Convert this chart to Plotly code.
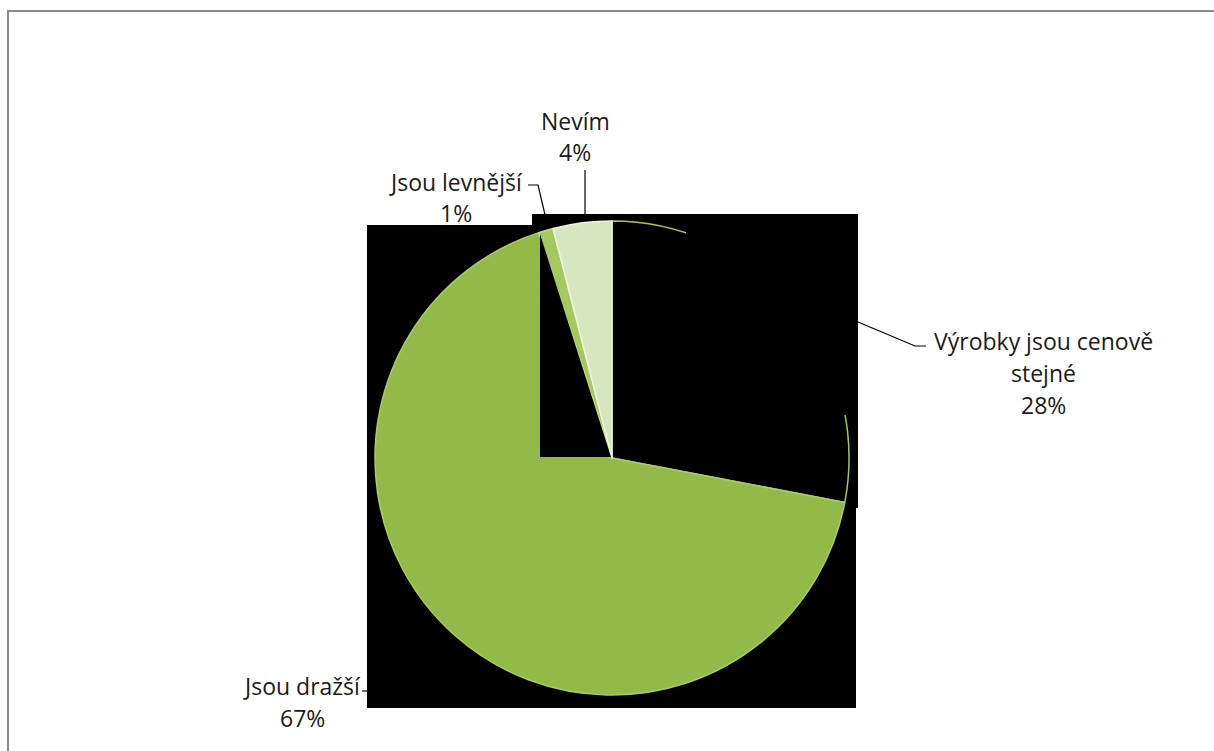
import plotly.graph_objects as go

# Survey answers (share of respondents, %)
labels = ["Výrobky jsou cenově stejné", "Jsou dražší", "Jsou levnější", "Nevím"]
values = [28, 67, 1, 4]
slice_colors = ["#000000", "#93ba49", "#a6c95f", "#d8e6bf"]
edge_colors = ["#a3c85a", "#a9cc66", "#c5dd98", "#eef4e2"]

W, H = 1214, 751


def px(x):
    return x / W


def py(y):
    return 1 - y / H


fig = go.Figure()

fig.add_trace(go.Pie(
    labels=labels,
    values=values,
    sort=False,
    direction="clockwise",
    rotation=0,
    textinfo="none",
    hoverinfo="label+percent",
    marker=dict(colors=slice_colors, line=dict(color=edge_colors, width=1.5)),
    domain=dict(x=[px(375), px(849)], y=[py(695), py(221)]),
    showlegend=False,
))

shapes = []
# outer chart frame (only top and left edges fall inside the page)
shapes.append(dict(type="path", xref="paper", yref="paper",
                   path=f"M {px(8)},{py(800)} L {px(8)},{py(11)} L {px(1300)},{py(11)}",
                   line=dict(color="#8a8a8a", width=2), layer="below"))
# dark backdrop behind the pie
shapes.append(dict(type="rect", xref="paper", yref="paper",
                   x0=px(367), x1=px(856), y0=py(708), y1=py(225),
                   line=dict(width=0), fillcolor="#000000", layer="below"))
shapes.append(dict(type="rect", xref="paper", yref="paper",
                   x0=px(532), x1=px(858), y0=py(508), y1=py(214),
                   line=dict(width=0), fillcolor="#000000", layer="below"))
# dark patches drawn over the pie
shapes.append(dict(type="path", xref="paper", yref="paper",
                   path=f"M {px(540)},{py(457)} L {px(611)},{py(457)} L {px(540)},{py(234)} Z",
                   line=dict(width=0), fillcolor="#000000", layer="above"))
shapes.append(dict(type="rect", xref="paper", yref="paper",
                   x0=px(686), x1=px(858), y0=py(415), y1=py(214),
                   line=dict(width=0), fillcolor="#000000", layer="above"))


def seg(points):
    d = "M " + " L ".join(f"{px(x)},{py(y)}" for x, y in points)
    shapes.append(dict(type="path", xref="paper", yref="paper", path=d,
                       line=dict(color="#000000", width=1.2), layer="above"))


# leader lines
seg([(585, 170), (585, 219)])                     # Nevím
seg([(528, 185), (538, 185), (546, 219)])         # Jsou levnější
seg([(858, 322), (915, 346), (926, 346)])         # Výrobky jsou cenově stejné
seg([(362, 691), (369, 691)])                     # Jsou dražší

font = dict(family="'Open Sans', 'Noto Sans', sans-serif", size=23, color="#1a1a1a")


def label_block(lines, cx, ys):
    for line, y in zip(lines, ys):
        fig.add_annotation(text=line, x=px(cx), y=py(y), xref="paper", yref="paper",
                           showarrow=False, font=font, xanchor="center", yanchor="middle")


pct = [f"{v}%" for v in values]
label_block(["Výrobky jsou cenově", "stejné", pct[0]], 1043, [341, 373, 405])
label_block([labels[1], pct[1]], 302, [686, 718])
label_block([labels[2], pct[2]], 456, [182, 213])
label_block([labels[3], pct[3]], 575, [121, 152])

fig.update_layout(
    width=W, height=H,
    margin=dict(l=0, r=0, t=0, b=0),
    paper_bgcolor="#ffffff",
    plot_bgcolor="#ffffff",
    shapes=shapes,
)

fig.write_html("out.html")
